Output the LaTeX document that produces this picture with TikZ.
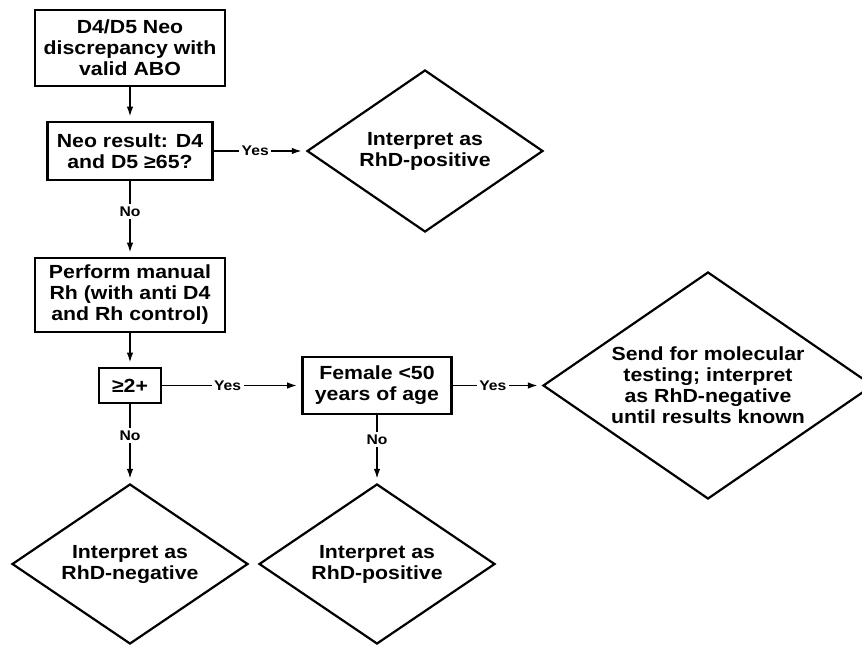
\documentclass[tikz,border=0pt]{standalone}
\usepackage{fontspec}
\setmainfont{Liberation Sans}[FakeStretch=1.12]
\usetikzlibrary{shapes.geometric, arrows.meta}

\begin{document}
\begin{tikzpicture}[
  x=1pt, y=1pt,
  stepbox/.style={draw, line width=2.6pt, align=center, inner sep=0pt, font=\fontsize{19}{21}\selectfont\bfseries},
  outcome/.style={draw, diamond, aspect=1.46, line width=2.2pt, align=center, inner sep=0pt, font=\fontsize{19}{21}\selectfont\bfseries},
  flow/.style={-{Latex[length=10pt, width=6.5pt]}, line width=1.8pt, shorten >=4pt},
  answer/.style={fill=white, inner sep=2.5pt, font=\fontsize{14}{16}\selectfont\bfseries}
]
  \clip (0,0) rectangle (862,-646);

  % checks down the left side
  \node[stepbox, minimum width=190, minimum height=76] (start) at (130,-48) {D4/D5 Neo\\discrepancy with\\valid ABO};
  \node[stepbox, minimum width=165, minimum height=58] (neo) at (130,-151) {Neo result: D4\\and D5 ≥65?};
  \node[stepbox, minimum width=190, minimum height=74] (manual) at (130,-295) {Perform manual\\Rh (with anti D4\\and Rh control)};
  \node[stepbox, minimum width=62, minimum height=35] (grade) at (130,-385.5) {≥2+};
  \node[stepbox, minimum width=149, minimum height=57] (female) at (377,-385.5) {Female <50\\years of age};

  % outcomes
  \node[outcome, minimum width=236, minimum height=162] (rhdpos) at (425,-151) {Interpret as\\RhD-positive};
  \node[outcome, minimum width=330, minimum height=227] (molec) at (708,-385.5) {Send for molecular\\testing; interpret\\as RhD-negative\\until results known};
  \node[outcome, minimum width=236, minimum height=160] (rhdneg) at (130,-564) {Interpret as\\RhD-negative};
  \node[outcome, minimum width=236, minimum height=160] (rhdpos2) at (377,-564) {Interpret as\\RhD-positive};

  \draw[flow] (start) -- (neo);
  \draw[flow] (neo) -- node[answer, pos=0.45] {Yes} (rhdpos);
  \draw[flow] (neo) -- node[answer, pos=0.4] {No} (manual);
  \draw[flow] (manual) -- (grade);
  \draw[flow] (grade) -- node[answer, pos=0.47] {Yes} (female);
  \draw[flow] (grade) -- node[answer, pos=0.4] {No} (rhdneg);
  \draw[flow] (female) -- node[answer, pos=0.45] {Yes} (molec);
  \draw[flow] (female) -- node[answer, pos=0.36] {No} (rhdpos2);
\end{tikzpicture}
\end{document}
